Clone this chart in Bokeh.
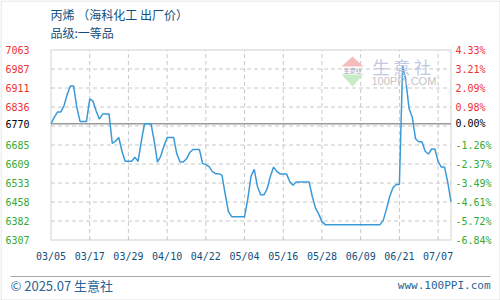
import numpy as np
from bokeh.plotting import figure
from bokeh.models import Label, PolyAnnotation, BoxAnnotation, Range1d
from bokeh.embed import file_html
from bokeh.resources import INLINE

# ---------------- data ----------------
title_text = "丙烯 （海科化工  出厂价）"
subtitle_text = "品级:一等品"
date_labels = ["03/05", "03/17", "03/29", "04/10", "04/22", "05/04",
               "05/16", "05/28", "06/09", "06/21", "07/07"]
date_positions = [0, 12, 24, 36, 48, 60, 72, 84, 96, 108, 120]

prices = [
    6770, 6795, 6816, 6816, 6840, 6885, 6920, 6920, 6835, 6779,
    6779, 6779, 6868, 6860, 6820, 6788, 6808, 6808, 6808, 6691,
    6700, 6715, 6660, 6620, 6620, 6620, 6636, 6620, 6700, 6770,
    6770, 6770, 6700, 6617, 6640, 6680, 6715, 6715, 6715, 6650,
    6617, 6617, 6630, 6655, 6667, 6667, 6667, 6612, 6607, 6599,
    6580, 6571, 6571, 6565, 6490, 6420, 6400, 6400, 6400, 6400,
    6400, 6470, 6560, 6588, 6520, 6487, 6487, 6510, 6560, 6597,
    6580, 6570, 6570, 6570, 6540, 6525, 6538, 6538, 6538, 6538,
    6538, 6480, 6434, 6410, 6380, 6368, 6368, 6368, 6368, 6368,
    6368, 6368, 6368, 6368, 6368, 6368, 6368, 6368, 6368, 6368,
    6368, 6368, 6368, 6385, 6430, 6480, 6515, 6528, 6528, 7000,
    6940, 6830, 6795, 6710, 6698, 6698, 6660, 6649, 6669, 6669,
    6620, 6597, 6597, 6536, 6459,
]
base_price = 6770
y_min, y_max = 6307, 7063
y_tick_values = [7063, 6987, 6911, 6836, 6770, 6685, 6609, 6533, 6458, 6382, 6307]
y_tick_labels = ["7063", "6987", "6911", "6836", "6770", "6685",
                 "6609", "6533", "6458", "6382", "6307"]
pct_labels = ["4.33%", "3.21%", "2.09%", "0.98%", "0.00%", "-1.26%",
              "-2.37%", "-3.49%", "-4.61%", "-5.72%", "-6.84%"]

# ---------------- layout / styles ----------------
W, H = 500, 300
PL, PR, PT, PB = 50.5, 450.5, 49.5, 239.5   # plot area in page pixels
BLUE_TXT = "#124f7e"
RED = "#f03030"
GREEN = "#33aa33"
LINE = "#3a9ad9"
FRAME = "#9a9a9a"
GRID = "#c8c8c8"
MONO = "DejaVu Sans Mono"
CJK = "Noto Sans CJK SC"

n = len(prices)
xs = list(range(n))
x_lo, x_hi = 0, n - 1
# ranges so that the plot area sits at PL..PR / PT..PB of a full-canvas frame
xppu = (PR - PL) / (x_hi - x_lo)
yppu = (PB - PT) / (y_max - y_min)
x_range = Range1d(x_lo - PL / xppu, x_hi + (W - PR) / xppu)
y_range = Range1d(y_min - (H - PB) / yppu, y_max + PT / yppu)

p = figure(width=W, height=H, output_backend="svg", toolbar_location=None,
           x_range=x_range, y_range=y_range,
           x_axis_location=None, y_axis_location=None, min_border=0)
p.background_fill_color = "white"
p.border_fill_color = "white"
p.outline_line_color = None
p.grid.visible = False

# grid lines
grid_pos = list(np.linspace(y_min, y_max, 11)[1:-1])
p.segment(x0=[x_lo] * len(grid_pos), y0=grid_pos, x1=[x_hi] * len(grid_pos), y1=grid_pos,
          line_color=GRID, line_dash="4 3", line_width=1)
vx = date_positions[1:]
p.segment(x0=vx, y0=[y_min] * len(vx), x1=vx, y1=[y_max] * len(vx),
          line_color=GRID, line_dash="4 3", line_width=1)

# zero (base price) line
p.segment(x0=[x_lo], y0=[base_price], x1=[x_hi], y1=[base_price],
          line_color=FRAME, line_width=1.5)

# plot frame
p.add_layout(BoxAnnotation(left=x_lo, right=x_hi, bottom=y_min, top=y_max,
                           fill_color=None, line_color=FRAME, line_width=1.5))

# data line
p.line(xs, prices, line_color=LINE, line_width=1.5)

# y labels (left price, right percent)
for v, lab, pct in zip(y_tick_values, y_tick_labels, pct_labels):
    col = "black" if v == base_price else (RED if v > base_price else GREEN)
    p.add_layout(Label(x=5, x_units="screen", y=v, y_units="data", text=lab,
                       text_align="left", text_baseline="middle",
                       text_font=MONO, text_font_size="10px", text_color=col))
    p.add_layout(Label(x=455, x_units="screen", y=v, y_units="data", text=pct,
                       text_align="left", text_baseline="middle",
                       text_font=MONO, text_font_size="10px", text_color=col))

# x labels
for pos, lab in zip(date_positions, date_labels):
    p.add_layout(Label(x=pos, x_units="data", y=H - 256, y_units="screen", text=lab,
                       text_align="center", text_baseline="middle",
                       text_font=MONO, text_font_size="10px", text_color=BLUE_TXT))

# titles
p.add_layout(Label(x=50, y=H - 14, x_units="screen", y_units="screen", text=title_text,
                   text_align="left", text_baseline="middle",
                   text_font=CJK, text_font_size="12px", text_color=BLUE_TXT))
p.add_layout(Label(x=50, y=H - 32, x_units="screen", y_units="screen", text=subtitle_text,
                   text_align="left", text_baseline="middle",
                   text_font=CJK, text_font_size="12px", text_color=BLUE_TXT))

# watermark
p.add_layout(PolyAnnotation(xs=[352, 341, 363], ys=[H - 56, H - 66, H - 66],
                            xs_units="screen", ys_units="screen",
                            fill_color="#f5bcbc", fill_alpha=1, line_color=None))
p.add_layout(PolyAnnotation(xs=[341, 363, 352], ys=[H - 74, H - 74, H - 86],
                            xs_units="screen", ys_units="screen",
                            fill_color="#c6ebc6", fill_alpha=1, line_color=None))
p.add_layout(Label(x=352, y=H - 70, x_units="screen", y_units="screen", text="生意社",
                   text_align="center", text_baseline="middle",
                   text_font=CJK, text_font_size="6px", text_color="#9aa0b8"))
p.add_layout(Label(x=372, y=H - 66, x_units="screen", y_units="screen", text="生 意 社",
                   text_align="left", text_baseline="middle",
                   text_font=CJK, text_font_size="17px", text_color="#c3c8e2"))
p.add_layout(Label(x=371, y=H - 80, x_units="screen", y_units="screen", text="100PPI.COM",
                   text_align="left", text_baseline="middle",
                   text_font="Liberation Sans", text_font_size="11px", text_color="#c4c4c4"))

# footer
p.add_layout(PolyAnnotation(xs=[10, 490, 490, 10], ys=[H - 275.5, H - 275.5, H - 276.5, H - 276.5],
                            xs_units="screen", ys_units="screen",
                            fill_color="#a8a8a8", fill_alpha=1, line_color=None))
p.add_layout(Label(x=10, y=H - 285, x_units="screen", y_units="screen", text="© 2025.07 生意社",
                   text_align="left", text_baseline="middle",
                   text_font=CJK, text_font_size="13px", text_color="#2a6496"))
p.add_layout(Label(x=490, y=H - 285, x_units="screen", y_units="screen", text="www.100PPI.com",
                   text_align="right", text_baseline="middle",
                   text_font=MONO, text_font_size="11px", text_color="#2a6496"))

# outer border
p.add_layout(PolyAnnotation(xs=[0.5, 499.5, 499.5, 0.5], ys=[0.5, 0.5, 299.5, 299.5],
                            xs_units="screen", ys_units="screen",
                            fill_color=None, line_color=FRAME, line_width=1))

open("out.html", "w").write(file_html(p, INLINE))
